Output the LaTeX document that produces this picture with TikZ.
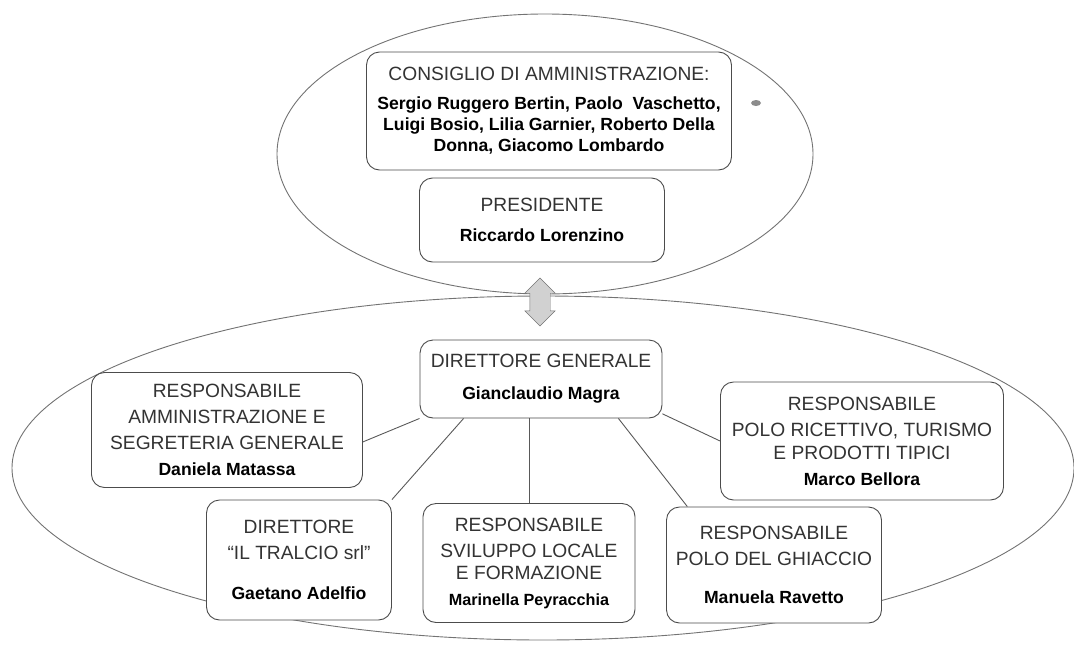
\documentclass[tikz,border=0pt]{standalone}
\usepackage{fontspec}
\setmainfont{Liberation Sans}
\usetikzlibrary{shapes.arrows}
\tikzset{
  box/.style={draw=black!70, line width=0.9pt, rounded corners=13pt, fill=white,
    align=center, inner sep=0pt, text=black!80,
    font=\fontsize{19.2}{26}\selectfont},
  oval/.style={draw=black!55, line width=0.9pt},
  conn/.style={draw=black!65, line width=0.9pt},
  link/.style={double arrow, rotate=90, draw=black!55, fill=black!18,
    minimum height=48pt, double arrow head extend=5pt,
    inner sep=10pt}
}
\newcommand{\nm}{\bfseries\color{black}\fontsize{17.6}{21}\selectfont}
\begin{document}
\begin{tikzpicture}[x=1pt,y=-1pt]
\useasboundingbox (0,0) rectangle (1074,659);

% Drawing oval of the board
\draw [oval] (545,154) ellipse [x radius=268pt, y radius=140pt];
\fill [black!45] (756,103) ellipse [x radius=5pt, y radius=3pt];

% Drawing oval of the staff
\draw [oval] (543,468) ellipse [x radius=531pt, y radius=172pt];

% Drawing board boxes
\node [box, minimum width=365pt, minimum height=118pt] (cda) at (549,111)
  {CONSIGLIO DI AMMINISTRAZIONE:\\[3pt]
   {\nm Sergio Ruggero Bertin, Paolo\ \ Vaschetto,}\\[-5pt]
   {\nm Luigi Bosio, Lilia Garnier, Roberto Della}\\[-5pt]
   {\nm Donna, Giacomo Lombardo}};
\node [box, minimum width=245pt, minimum height=84pt] (pres) at (542,220)
  {PRESIDENTE\\[4pt] {\nm Riccardo Lorenzino}};

% Drawing link between the two ovals
\node [link] (arr) at (540,302) {};

% Drawing staff boxes
\node [box, minimum width=242pt, minimum height=78pt] (dg) at (541,379)
  {DIRETTORE GENERALE\\[6pt] {\nm Gianclaudio Magra}};
\node [box, minimum width=271pt, minimum height=115pt] (amm) at (227,430)
  {RESPONSABILE\\ AMMINISTRAZIONE E\\ SEGRETERIA GENERALE\\ {\nm Daniela Matassa}};
\node [box, minimum width=283pt, minimum height=118pt] (ricet) at (862,441)
  {RESPONSABILE\\ POLO RICETTIVO, TURISMO\\[-3pt] E PRODOTTI TIPICI\\ {\nm Marco Bellora}};
\node [box, minimum width=185pt, minimum height=120pt] (tralcio) at (299,560)
  {DIRETTORE\\ “IL TRALCIO srl”\\[14pt] {\nm Gaetano Adelfio}};
\node [box, minimum width=212pt, minimum height=119pt] (svil) at (529,563)
  {RESPONSABILE\\ SVILUPPO LOCALE\\[-4pt] E FORMAZIONE\\
   {\nm\fontsize{16.2}{21}\selectfont Marinella Peyracchia}};
\node [box, minimum width=215pt, minimum height=116pt] (ghiac) at (774,565)
  {RESPONSABILE\\ POLO DEL GHIACCIO\\[12pt] {\nm Manuela Ravetto}};

% Drawing connectors from the general director
\draw [conn] (dg.south west) -- (amm.-5.5);
\draw [conn] (dg.207) -- (tralcio.north east);
\draw [conn] (svil.north) -- (svil.north |- dg.south);
\draw [conn] (dg.-27) -- (ghiac.146);
\draw [conn] (dg.-16) -- (ricet.west);
\end{tikzpicture}
\end{document}
